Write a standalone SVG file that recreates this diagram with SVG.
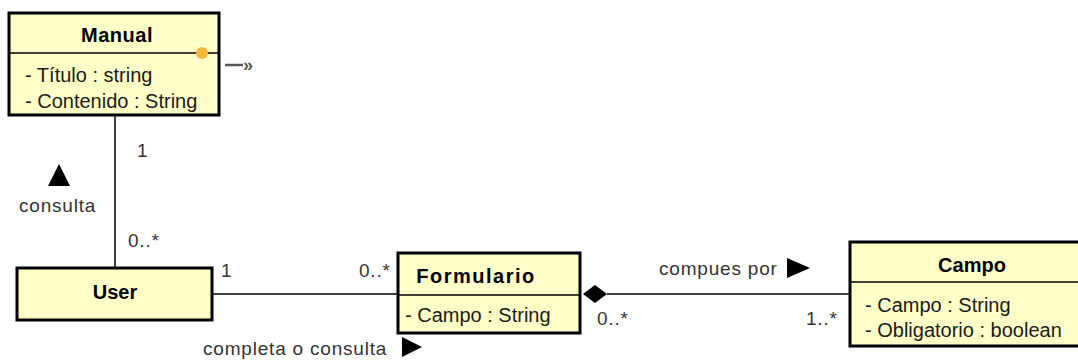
<svg xmlns="http://www.w3.org/2000/svg" width="1078" height="360" viewBox="0 0 1078 360">
<style>
.box{fill:#FFFFC8;stroke:#000;stroke-width:3}
.sep{stroke:#000;stroke-width:1.5}
.t{font-family:"Liberation Sans",Arial,sans-serif;font-size:20px;fill:#1a1a1a}
.b{font-family:"Liberation Sans",Arial,sans-serif;font-size:20px;font-weight:bold;fill:#000;text-anchor:middle}
.lbl{font-family:"Liberation Sans",Arial,sans-serif;font-size:19px;fill:#333;letter-spacing:0.8px}
.ln{stroke:#000;stroke-width:1.5;fill:none}
</style>
<rect width="1078" height="360" fill="#fff"/>
<g id="connectors">
  <line class="ln" x1="115" y1="115" x2="115" y2="268"/>
  <line class="ln" x1="212" y1="294" x2="398" y2="294"/>
  <line class="ln" x1="607" y1="294" x2="850" y2="294"/>
  <polygon points="583,294 595,285 607,294 595,303" fill="#000"/>
  <line x1="225" y1="65" x2="243" y2="65" stroke="#555" stroke-width="2.5"/>
  <text x="243" y="71" font-family="Liberation Sans,Arial,sans-serif" font-size="18" font-weight="bold" fill="#555">»</text>
  <text class="lbl" x="137" y="157">1</text>
  <polygon points="59,164 48,186 70,186" fill="#000"/>
  <text class="lbl" x="19" y="212">consulta</text>
  <text class="lbl" x="128" y="247">0..*</text>
  <text class="lbl" x="221" y="277">1</text>
  <text class="lbl" x="359" y="277">0..*</text>
  <text class="lbl" x="203" y="355">completa o consulta</text>
  <polygon points="402,337 422,347 402,357" fill="#000"/>
  <text class="lbl" x="659" y="275">compues por</text>
  <polygon points="787,258 810,268 787,278" fill="#000"/>
  <text class="lbl" x="597" y="325">0..*</text>
  <text class="lbl" x="806" y="325">1..*</text>
</g>
<g id="Manual">
  <rect class="box" x="9" y="13" width="210" height="102"/>
  <line class="sep" x1="9" y1="53" x2="219" y2="53"/>
  <circle cx="202" cy="53" r="6" fill="#F7B73A"/>
  <text class="b" x="117" y="42" letter-spacing="0.5">Manual</text>
  <text class="t" x="25" y="82">- Título : string</text>
  <text class="t" x="25" y="108">- Contenido : String</text>
</g>
<g id="User">
  <rect class="box" x="17" y="268" width="195" height="52"/>
  <text class="b" x="115" y="299">User</text>
</g>
<g id="Formulario">
  <rect class="box" x="398" y="253" width="182" height="80"/>
  <line class="sep" x1="398" y1="295" x2="580" y2="295"/>
  <text class="b" x="476" y="283" letter-spacing="1.5">Formulario</text>
  <text class="t" x="405" y="322">- Campo : String</text>
</g>
<g id="Campo">
  <rect class="box" x="850" y="242" width="232" height="104"/>
  <line class="sep" x1="850" y1="282" x2="1082" y2="282"/>
  <text class="b" x="972" y="272">Campo</text>
  <text class="t" x="865" y="312">- Campo : String</text>
  <text class="t" x="865" y="337">- Obligatorio : boolean</text>
</g>
</svg>
